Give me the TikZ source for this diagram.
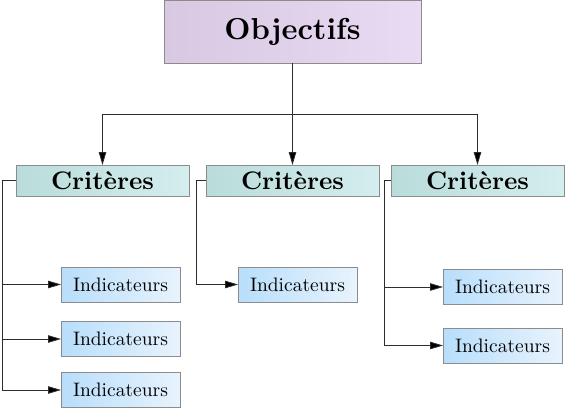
\documentclass[tikz,border=0pt]{standalone}
\usepackage{tikz}
\usetikzlibrary{arrows.meta,positioning}

\newcommand{\objlabel}[1]{\scalebox{3.03}{\bfseries #1}}
\newcommand{\critlabel}[1]{\scalebox{2.54}{\bfseries #1}}
\newcommand{\indlabel}[1]{\scalebox{1.95}{#1}}

\tikzset{
  box/.style={draw=borderColor,line width=0.6pt,inner sep=0pt,outer sep=0pt,font=\fontsize{10}{12}\selectfont},
  objbox/.style={box,minimum width=257,minimum height=63,left color=objLeft,right color=objRight},
  critbox/.style={box,minimum width=173,minimum height=31,left color=critLeft,right color=critRight},
  indbox/.style={box,minimum width=119,minimum height=35,left color=indLeft,right color=indRight},
  link/.style={draw=drawColor,line width=0.8pt},
  arrowlink/.style={link,-{Triangle[length=13pt,width=7.5pt,fill=black]}}
}

\begin{document}
\begin{tikzpicture}[x=1pt,y=1pt]
\definecolor{fillColor}{RGB}{255,255,255}
\definecolor{drawColor}{RGB}{45,45,45}
\definecolor{borderColor}{RGB}{140,140,140}
\definecolor{objLeft}{RGB}{216,200,226}
\definecolor{objRight}{RGB}{233,219,243}
\definecolor{critLeft}{RGB}{185,220,218}
\definecolor{critRight}{RGB}{212,237,238}
\definecolor{indLeft}{RGB}{184,222,251}
\definecolor{indRight}{RGB}{232,243,253}
\path[use as bounding box,fill=fillColor] (0,0) rectangle (565,408);

\node[objbox] (obj) at (292.5,376.5) {\objlabel{Objectifs}};

\node[critbox] (crit1) at (102.5,227.5) {\critlabel{Crit\`eres}};
\node[critbox] (crit2) at (292.5,227.5) {\critlabel{Crit\`eres}};
\node[critbox] (crit3) at (477.5,227.5) {\critlabel{Crit\`eres}};

\node[indbox] (ind11) at (120.5,123.5) {\indlabel{Indicateurs}};
\node[indbox] (ind12) at (120.5, 69.0) {\indlabel{Indicateurs}};
\node[indbox] (ind13) at (120.5, 18.0) {\indlabel{Indicateurs}};

\node[indbox] (ind21) at (297.5,123.5) {\indlabel{Indicateurs}};

\node[indbox] (ind31) at (502.5,121.0) {\indlabel{Indicateurs}};
\node[indbox] (ind32) at (502.5, 62.5) {\indlabel{Indicateurs}};

\coordinate (bus) at (292.5,294);
\path[link] (obj.south) -- (bus);
\path[arrowlink] (bus) -- (crit2.north);
\path[arrowlink] (bus) -| (crit1.north);
\path[arrowlink] (bus) -| (crit3.north);

\path[arrowlink] (crit1.west) -- ++(-14,0) |- (ind11.west);
\path[arrowlink] (crit1.west) -- ++(-14,0) |- (ind12.west);
\path[arrowlink] (crit1.west) -- ++(-14,0) |- (ind13.west);

\path[arrowlink] (crit2.west) -- ++(-9.5,0) |- (ind21.west);

\path[arrowlink] (crit3.west) -- ++(-7,0) |- (ind31.west);
\path[arrowlink] (crit3.west) -- ++(-7,0) |- (ind32.west);
\end{tikzpicture}
\end{document}
